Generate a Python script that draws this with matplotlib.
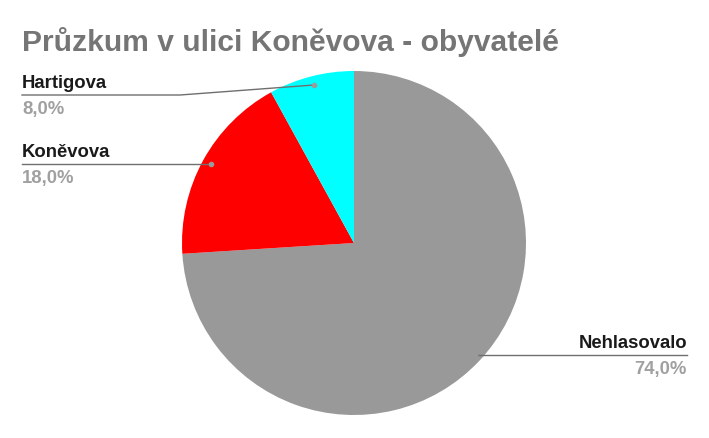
import matplotlib.pyplot as plt

plt.rcParams['font.family'] = ['Liberation Sans', 'DejaVu Sans']

title = 'Průzkum v ulici Koněvova - obyvatelé'
labels = ['Nehlasovalo', 'Koněvova', 'Hartigova']
values = [74.0, 18.0, 8.0]
colors = ['#999999', '#ff0000', '#00ffff']

W, H = 709, 438
fig = plt.figure(figsize=(W / 100, H / 100), dpi=100)
ax = fig.add_axes([0, 0, 1, 1])

cx, cy, r = 354, H - 243, 172
ax.pie(values, colors=colors, startangle=90, counterclock=False,
       center=(cx, cy), radius=r, frame=True,
       wedgeprops=dict(linewidth=0))
ax.set_xlim(0, W)
ax.set_ylim(0, H)
ax.set_aspect('equal')
ax.axis('off')

fig.text(22 / W, 1 - 42 / H, title, fontsize=21.6, fontweight='bold',
         color='#757575', va='center', ha='left')

# leader lines: dot, elbow, end, text x, alignment
leaders = {
    'Hartigova': [(314, 85), (180, 95), (22, 95), 22, 'left'],
    'Koněvova': [(211, 164), (211, 164), (22, 164), 22, 'left'],
    'Nehlasovalo': [(475, 355), (475, 355), (687, 355), 687, 'right'],
}
lc = '#6f6f6f'
for lab, v in zip(labels, values):
    dot, elbow, end, tx, ha = leaders[lab]
    xs = [dot[0], elbow[0], end[0]]
    ys = [H - dot[1], H - elbow[1], H - end[1]]
    ax.plot(xs, ys, color=lc, lw=1)
    ax.plot(dot[0], H - dot[1], 'o', color='#9a9a9a', ms=3)
    ax.text(tx, H - end[1] + 3, lab, fontsize=13.3, fontweight='bold',
            color='#1a1a1a', ha=ha, va='bottom')
    ax.text(tx, H - end[1] - 6, f'{v:.1f}%'.replace('.', ','), fontsize=13.3,
            fontweight='bold', color='#a0a0a0', ha=ha, va='top')

fig.savefig('out.png', dpi=100)
